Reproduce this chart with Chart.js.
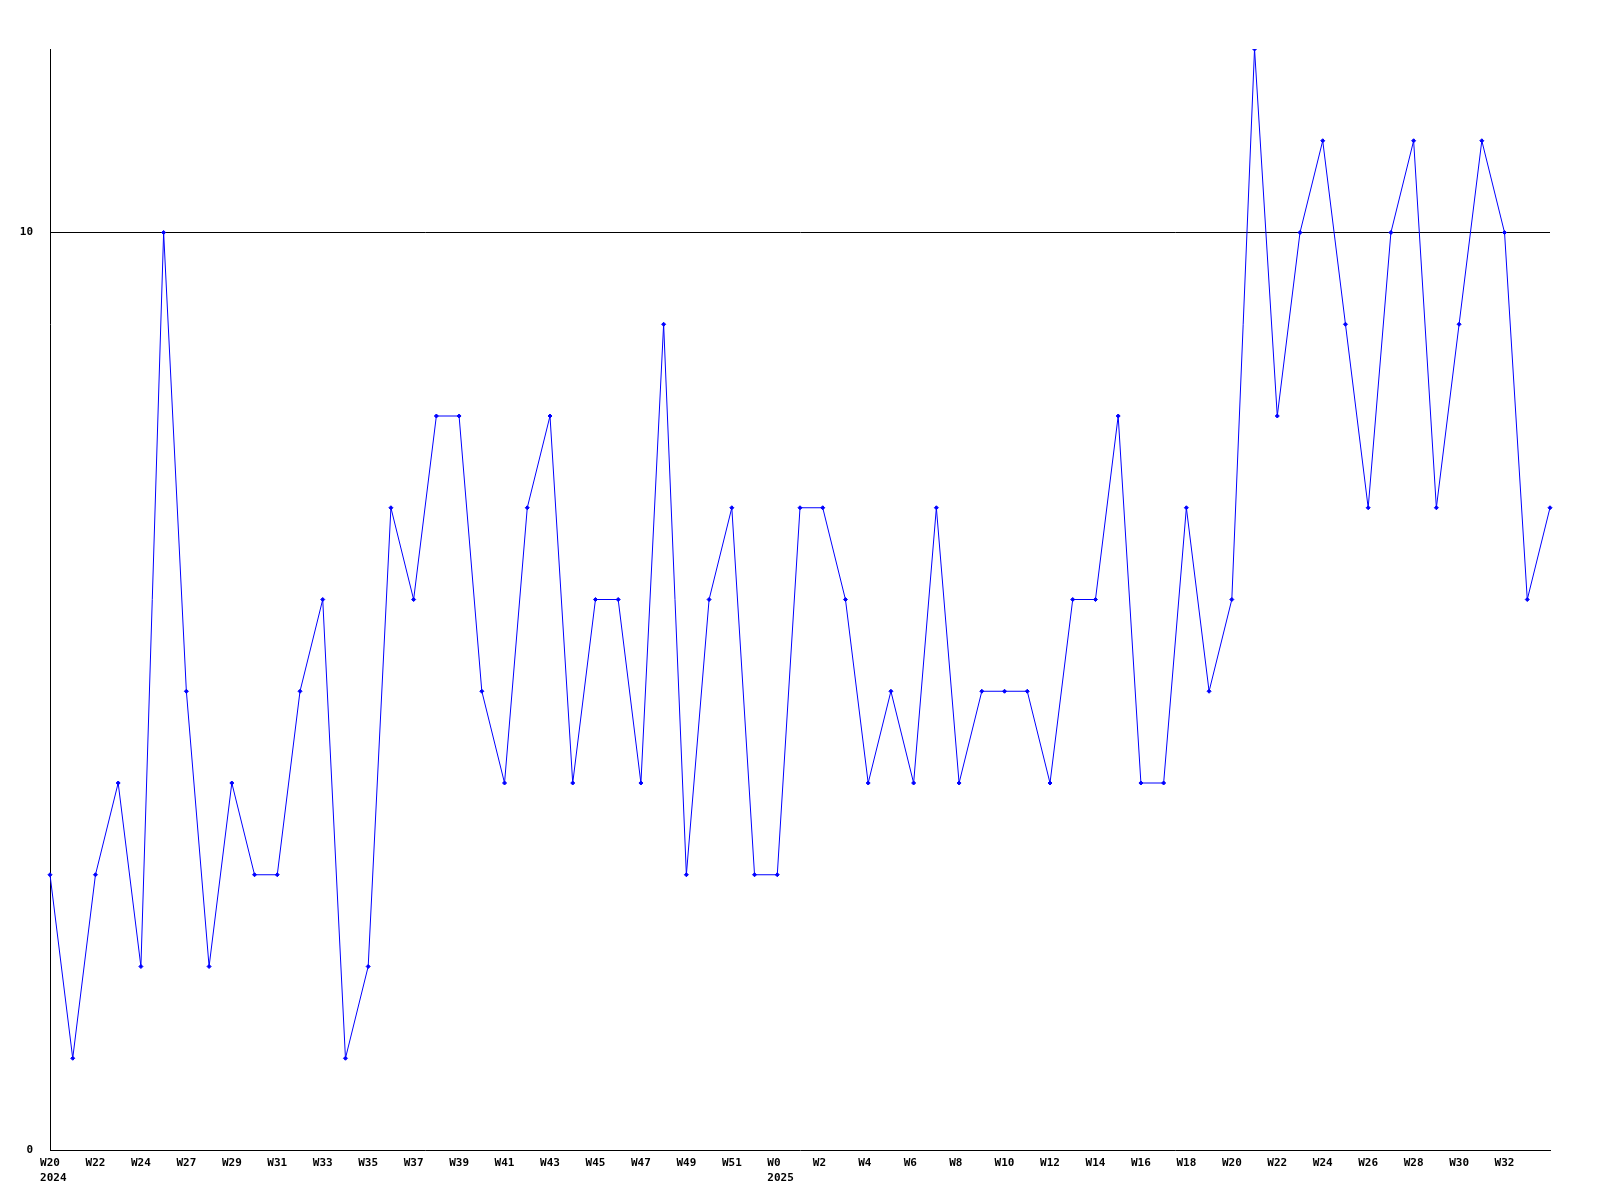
<!DOCTYPE html>
<html>
<head>
<meta charset="utf-8">
<script src="https://cdn.jsdelivr.net/npm/chart.js@4/dist/chart.umd.min.js"></script>
<style>
  html, body { margin: 0; padding: 0; background: #fff; }
  #wrap { width: 1600px; height: 1200px; }
</style>
</head>
<body>
<div id="wrap"><canvas id="weekChart" width="1600" height="1200"></canvas></div>
<script>
// weeks shown on the x axis (2024 then 2025)
const weeks2024 = ['W20', 'W21', 'W22', 'W23', 'W24', 'W26', 'W27', 'W28', 'W29', 'W30',
  'W31', 'W32', 'W33', 'W34', 'W35', 'W36', 'W37', 'W38', 'W39', 'W40',
  'W41', 'W42', 'W43', 'W44', 'W45', 'W46', 'W47', 'W48', 'W49', 'W50',
  'W51', 'W52'];
const weeks2025 = ['W0', 'W1', 'W2', 'W3', 'W4', 'W5', 'W6', 'W7', 'W8', 'W9',
  'W10', 'W11', 'W12', 'W13', 'W14', 'W15', 'W16', 'W17', 'W18', 'W19',
  'W20', 'W21', 'W22', 'W23', 'W24', 'W25', 'W26', 'W27', 'W28', 'W29',
  'W30', 'W31', 'W32', 'W33', 'W34'];

// weekly counts
const counts = [3, 1, 3, 4, 2, 10, 5, 2, 4, 3,
  3, 5, 6, 1, 2, 7, 6, 8, 8, 5,
  4, 7, 8, 4, 6, 6, 4, 9, 3, 6,
  7, 3, 3, 7, 7, 6, 4, 5, 4, 7,
  4, 5, 5, 5, 4, 6, 6, 8, 4, 4,
  7, 5, 6, 12, 8, 10, 11, 9, 7, 10,
  11, 7, 9, 11, 10, 6, 7];

const yTicks = [0, 10];

// labels in the original are left aligned a bit before the tick,
// so pad each line to keep that look with centred text
function pad(s) {
  if (s.length === 4) return ' ' + s;
  while (s.length < 3) s += ' ';
  return s;
}

const labels = weeks2024.concat(weeks2025).map((w, i) => {
  if (i === 0) return [pad(w), pad('2024')];
  if (i === weeks2024.length) return [pad(w), pad('2025')];
  return pad(w);
});

const monoFont = { family: '"DejaVu Sans Mono", monospace', size: 11, weight: 'bold', lineHeight: 1.36 };

new Chart(document.getElementById('weekChart'), {
  type: 'line',
  data: {
    labels: labels,
    datasets: [{
      data: counts,
      borderColor: '#0000ff',
      backgroundColor: '#0000ff',
      borderWidth: 1,
      tension: 0,
      pointStyle: 'rectRot',
      pointRadius: 2,
      pointBorderWidth: 1
    }]
  },
  options: {
    responsive: false,
    animation: false,
    layout: { padding: { top: 49, right: 50, left: 0, bottom: 0 } },
    plugins: { legend: { display: false }, tooltip: { enabled: false } },
    scales: {
      x: {
        offset: false,
        grid: { color: 'rgba(0,0,0,0)', drawTicks: false, tickLength: 0 },
        border: { display: true, color: '#000', width: 1 },
        ticks: {
          autoSkip: false,
          maxRotation: 0,
          minRotation: 0,
          padding: 6,
          color: '#000',
          font: monoFont,
          callback: function (val, i) {
            return (i % 2 === 0 && i < counts.length - 1) ? this.getLabelForValue(val) : '';
          }
        },
        afterFit: s => { s.height = 50; }
      },
      y: {
        min: 0,
        max: 12,
        afterBuildTicks: s => { s.ticks = yTicks.map(v => ({ value: v })); },
        grid: {
          drawTicks: false,
          tickLength: 0,
          color: ctx => (ctx.tick && ctx.tick.value === 10 ? '#000' : 'rgba(0,0,0,0)')
        },
        border: { display: true, color: '#000', width: 1 },
        ticks: { padding: 17, color: '#000', font: monoFont },
        afterFit: s => { s.width = 50; }
      }
    }
  }
});
</script>
</body>
</html>
